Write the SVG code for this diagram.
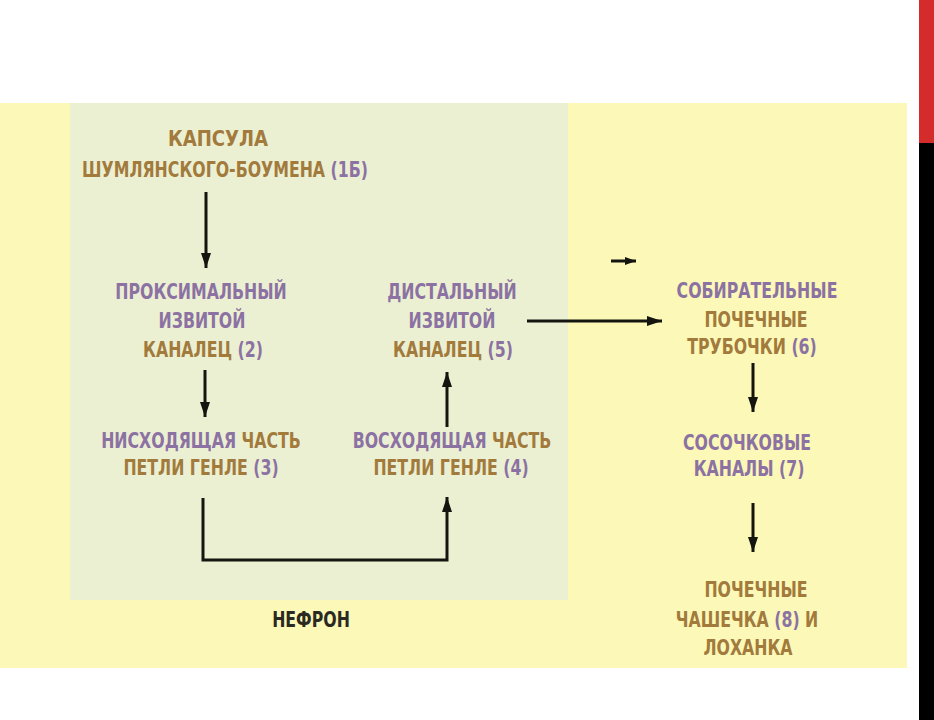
<svg xmlns="http://www.w3.org/2000/svg" width="934" height="720" viewBox="0 0 934 720">
<style>
text{font-family:"DejaVu Sans Condensed","Liberation Sans",sans-serif;font-weight:bold;font-size:20.5px;text-anchor:middle}
.b{fill:#a27a3c}
.p{fill:#8b72a2}
.k{fill:#2b2a22}
.c{fill:none;stroke:#151510;stroke-width:3}
</style>
<defs>
<marker id="ah" markerUnits="userSpaceOnUse" markerWidth="16" markerHeight="12" refX="15" refY="5" orient="auto">
<path d="M0,0 L15,5 L0,10 Z" fill="#151510"/>
</marker>
<marker id="ahs" markerUnits="userSpaceOnUse" markerWidth="12" markerHeight="10" refX="11" refY="4" orient="auto">
<path d="M0,0 L11,4 L0,8 Z" fill="#151510"/>
</marker>
</defs>
<rect width="934" height="720" fill="#ffffff"/>
<rect x="0" y="103" width="907" height="565" fill="#fbf8b8"/>
<rect x="70" y="103" width="498" height="497" fill="#ebf0d3"/>
<rect x="919" y="0" width="15" height="143" fill="#d42b2b"/>
<rect x="919" y="143" width="15" height="577" fill="#000000"/>

<g id="connectors">
<path class="c" d="M206,192 V268" marker-end="url(#ah)"/>
<path class="c" d="M205,370 V417" marker-end="url(#ah)"/>
<path class="c" d="M203,498 V560 H447 V497" marker-end="url(#ah)"/>
<path class="c" d="M447,427 V372" marker-end="url(#ah)"/>
<path class="c" d="M527,321 H662" marker-end="url(#ah)"/>
<path class="c" d="M611,261 H636" stroke-width="2" marker-end="url(#ahs)"/>
<path class="c" d="M753,363 V412" marker-end="url(#ah)"/>
<path class="c" d="M753,503 V552" marker-end="url(#ah)"/>
</g>

<g id="node1">
<text transform="translate(218,146) scale(0.98,1)" class="b">КАПСУЛА</text>
<text transform="translate(225,177) scale(0.855,1)"><tspan class="b">ШУМЛЯНСКОГО-БОУМЕНА </tspan><tspan class="p">(1Б)</tspan></text>
</g>
<g id="node2">
<text transform="translate(201,299) scale(0.855,1)" class="p">ПРОКСИМАЛЬНЫЙ</text>
<text transform="translate(202,328) scale(0.855,1)" class="p">ИЗВИТОЙ</text>
<text transform="translate(203,357) scale(0.855,1)"><tspan class="b">КАНАЛЕЦ </tspan><tspan class="p">(2)</tspan></text>
</g>
<g id="node3">
<text transform="translate(201,448) scale(0.855,1)"><tspan class="p">НИСХОДЯЩАЯ </tspan><tspan class="b">ЧАСТЬ</tspan></text>
<text transform="translate(201,475) scale(0.855,1)"><tspan class="b">ПЕТЛИ ГЕНЛЕ </tspan><tspan class="p">(3)</tspan></text>
</g>
<g id="node4">
<text transform="translate(452,448) scale(0.855,1)"><tspan class="p">ВОСХОДЯЩАЯ </tspan><tspan class="b">ЧАСТЬ</tspan></text>
<text transform="translate(451,475) scale(0.855,1)"><tspan class="b">ПЕТЛИ ГЕНЛЕ </tspan><tspan class="p">(4)</tspan></text>
</g>
<g id="node5">
<text transform="translate(452,299) scale(0.855,1)" class="p">ДИСТАЛЬНЫЙ</text>
<text transform="translate(452,328) scale(0.855,1)" class="p">ИЗВИТОЙ</text>
<text transform="translate(453,357) scale(0.855,1)"><tspan class="b">КАНАЛЕЦ </tspan><tspan class="p">(5)</tspan></text>
</g>
<g id="nephron-label">
<text transform="translate(311,627) scale(0.855,1)" class="k">НЕФРОН</text>
</g>
<g id="node6">
<text transform="translate(757,298) scale(0.855,1)" class="p">СОБИРАТЕЛЬНЫЕ</text>
<text transform="translate(756,327) scale(0.855,1)" class="b">ПОЧЕЧНЫЕ</text>
<text transform="translate(752,354) scale(0.855,1)"><tspan class="b">ТРУБОЧКИ </tspan><tspan class="p">(6)</tspan></text>
</g>
<g id="node7">
<text transform="translate(747,450) scale(0.855,1)" class="p">СОСОЧКОВЫЕ</text>
<text transform="translate(749,476) scale(0.855,1)" class="p">КАНАЛЫ (7)</text>
</g>
<g id="node8">
<text transform="translate(756,597) scale(0.855,1)" class="b">ПОЧЕЧНЫЕ</text>
<text transform="translate(747,627) scale(0.855,1)"><tspan class="b">ЧАШЕЧКА </tspan><tspan class="p">(8)</tspan><tspan class="b"> И</tspan></text>
<text transform="translate(748,655) scale(0.855,1)" class="b">ЛОХАНКА</text>
</g>
</svg>
